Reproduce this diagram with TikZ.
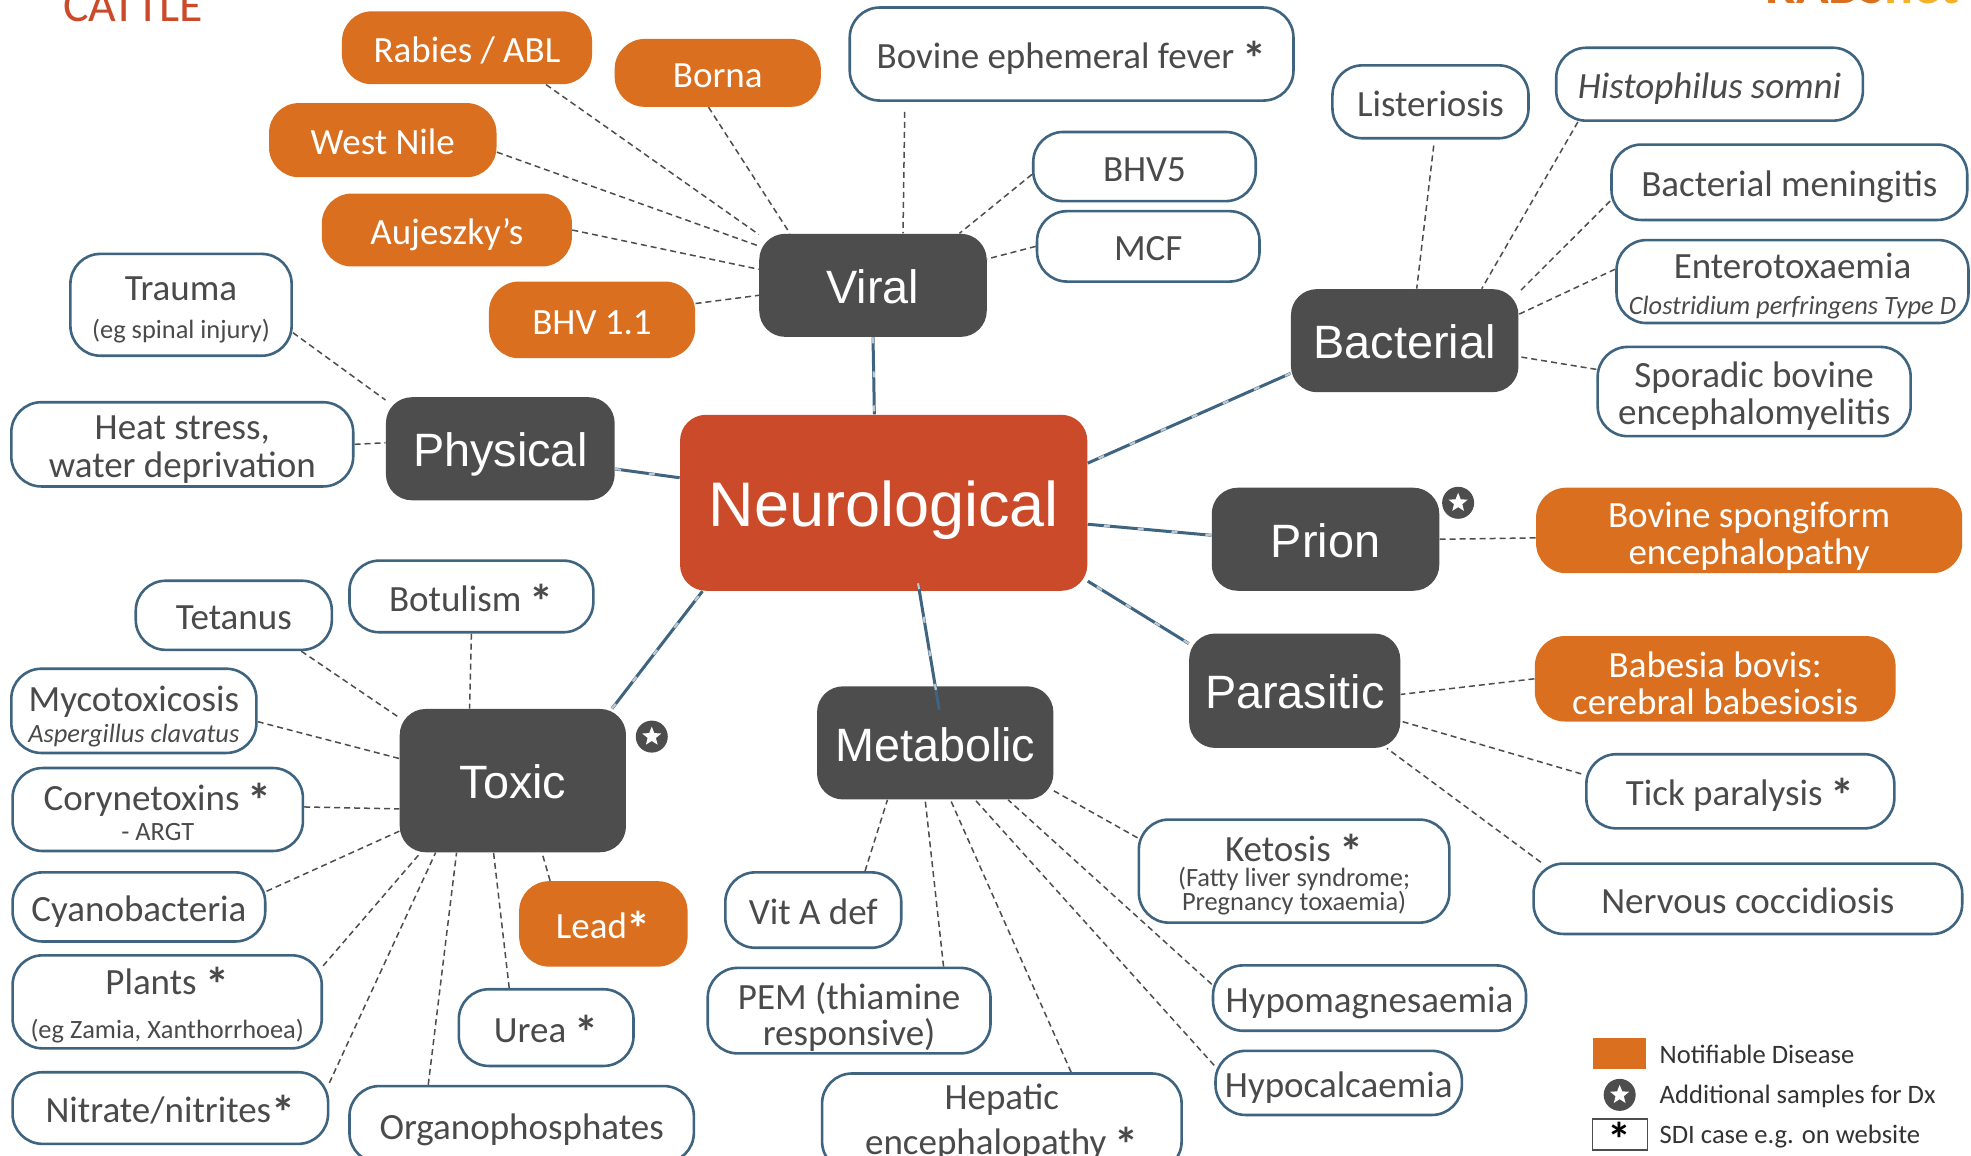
\documentclass[tikz,border=0pt]{standalone}
\usepackage{fontspec}
\setmainfont{Carlito}
\newfontfamily\catfont{Liberation Sans}
\usetikzlibrary{shapes.geometric,backgrounds}
\definecolor{orangebox}{HTML}{DA6F1F}
\definecolor{redbox}{HTML}{CB4A2A}
\definecolor{darkbox}{HTML}{4D4D4D}
\definecolor{edgeblue}{HTML}{3F6480}
\definecolor{txtgrey}{HTML}{4A4A4A}
\definecolor{logoyellow}{HTML}{F5B12A}
\newcommand\bx[7]{%
  \pgfmathsetmacro\cxx{(#3+#5)/2}%
  \pgfmathsetmacro\cyy{(#4+#6)/2}%
  \pgfmathsetmacro\www{(#5-#3)*0.6285}%
  \pgfmathsetmacro\hhh{(#6-#4)*0.6285}%
  \node[#2,minimum width=\www pt,minimum height=\hhh pt] (#1) at (\cxx,\cyy) {#7};}
\newcommand\lk[5][]{\draw[dashline,#1] (#2.#3) -- (#4.#5);}
\newcommand\mainfs{\fontsize{18.5}{18.6}\selectfont}
\newcommand\subfs{\fontsize{13.2}{12}\selectfont}
\newcommand\onel{\rule[-3.7pt]{0pt}{22pt}}
\newcommand\catl{\rule[-4.4pt]{0pt}{27pt}}
\newcommand\firstl[1]{\rule{0pt}{#1pt}}
\newcommand\astk{{\fontsize{24}{18}\selectfont\bfseries\raisebox{-3.5pt}[0pt][0pt]{*}}}
\tikzset{
  x=0.6285pt,y=-0.6285pt,
  anybox/.style={rectangle,inner sep=0pt,align=center,rounded corners=15pt},
  whitebox/.style={anybox,draw=edgeblue,line width=1.3pt,fill=white,text=txtgrey,font=\mainfs},
  notifbox/.style={anybox,fill=orangebox,text=white,font=\mainfs},
  catbox/.style={anybox,fill=darkbox,text=white,font=\catfont\fontsize{23.4}{26}\selectfont,rounded corners=13pt},
  neurobox/.style={anybox,fill=redbox,text=white,font=\catfont\fontsize{31.5}{34}\selectfont,rounded corners=13pt},
  dashline/.style={draw=darkbox,line width=0.75pt,dash pattern=on 3pt off 2pt},
  mainline/.style={draw=edgeblue,line width=1.5pt,postaction={draw=white!65!edgeblue,line width=1.1pt,dash pattern=on 3pt off 14pt}},
  badge/.style={circle,fill=darkbox,minimum size=16pt,inner sep=0pt},
  starmark/.style={star,star points=5,star point ratio=2.3,fill=white,minimum size=10pt,inner sep=0pt},
  legendtext/.style={anchor=base west,text=black!80,inner sep=0pt,font=\fontsize{13.3}{15}\selectfont},
}
\begin{document}
\begin{tikzpicture}
\useasboundingbox (0,0) rectangle (1568,919.6);
% headings cut by the page edge
\node[anchor=base west,inner sep=0pt,text=redbox,font=\fontsize{23.9}{26}\selectfont] (cattle) at (50,17) {CATTLE};
\node[anchor=base east,inner sep=0pt,text=orangebox,font=\bfseries\fontsize{27}{29}\selectfont] (logo) at (1559,3) {RABS\textcolor{logoyellow}{net}};
% centre
\bx{neuro}{neurobox}{541}{330}{865}{470}{\rule[-6pt]{0pt}{36pt}Neurological}
% categories
\bx{viral}{catbox}{604}{186}{785}{268}{\catl Viral}
\bx{physical}{catbox}{307}{316}{489}{398}{\catl Physical}
\bx{bacterial}{catbox}{1027}{230}{1208}{312}{\catl Bacterial}
\bx{prion}{catbox}{964}{388}{1145}{470}{\catl Prion}
\bx{parasitic}{catbox}{946}{504}{1114}{595}{\catl Parasitic}
\bx{metabolic}{catbox}{650}{546}{838}{636}{\catl Metabolic}
\bx{toxic}{catbox}{318}{564}{498}{678}{\catl Toxic}
% notifiable
\bx{rabies}{notifbox}{272}{9}{471}{67}{\onel Rabies / ABL}
\bx{borna}{notifbox}{489}{31}{653}{85}{\onel Borna}
\bx{westnile}{notifbox}{214}{82}{395}{141}{\onel West Nile}
\bx{aujeszky}{notifbox}{256}{154}{455}{212}{\onel Aujeszky’s}
\bx{bhvone}{notifbox}{389}{224}{553}{285}{\onel BHV 1.1}
\bx{lead}{notifbox}{413}{701}{547}{769}{\onel Lead\astk}
\bx{bse}{notifbox}{1222}{388}{1561}{456}{\firstl{18.5}Bovine spongiform\\encephalopathy}
\bx{babesia}{notifbox}{1221}{506}{1508}{574}{\firstl{17.3}Babesia bovis:\\cerebral babesiosis}
% plain
\bx{bef}{whitebox}{676}{6}{1029}{80}{\onel Bovine ephemeral fever \astk}
\bx{bhvfive}{whitebox}{822}{105}{999}{160}{\onel BHV5}
\bx{mcf}{whitebox}{825}{168}{1002}{224}{\onel MCF}
\bx{listeriosis}{whitebox}{1060}{52}{1216}{110}{\onel Listeriosis}
\bx{histophilus}{whitebox}{1238}{38}{1482}{96}{\onel\itshape Histophilus somni}
\bx{meningitis}{whitebox}{1282}{115}{1565}{175}{\onel Bacterial meningitis}
\bx{entero}{whitebox}{1286}{191}{1566}{257}{\firstl{17.2}Enterotoxaemia\\[-1pt]{\itshape\subfs Clostridium perfringens Type D}}
\bx{sporadic}{whitebox}{1271}{276}{1520}{347}{\firstl{17.3}Sporadic bovine\\encephalomyelitis}
\bx{trauma}{whitebox}{56}{202}{232}{283}{\firstl{17.2}Trauma\\[0.4pt]{\subfs (eg spinal injury)}}
\bx{heat}{whitebox}{9}{320}{281}{387}{\firstl{17.5}Heat stress,\\[0.5pt]water deprivation}
\bx{botulism}{whitebox}{278}{446}{472}{503}{\onel Botulism \astk}
\bx{tetanus}{whitebox}{108}{462}{264}{517}{\onel Tetanus}
\bx{myco}{whitebox}{9}{532}{204}{599}{\firstl{18.5}Mycotoxicosis\\[-3pt]{\itshape\subfs Aspergillus clavatus}}
\bx{coryne}{whitebox}{10}{611}{241}{677}{\firstl{16}Corynetoxins \astk\\[-3.2pt]{\subfs - ARGT}}
\bx{cyano}{whitebox}{10}{694}{211}{749}{\onel Cyanobacteria}
\bx{plants}{whitebox}{10}{760}{256}{834}{\firstl{17.3}Plants \astk\\[3.4pt]{\subfs (eg Zamia, Xanthorrhoea)}}
\bx{nitrate}{whitebox}{10}{853}{261}{910}{\onel Nitrate/nitrites\astk}
\bx{organo}{whitebox}{278}{864}{552}{925}{\onel Organophosphates}
\bx{urea}{whitebox}{365}{787}{504}{848}{\onel Urea \astk}
\bx{vita}{whitebox}{577}{694}{717}{754}{\onel Vit A def}
\bx{pem}{whitebox}{563}{770}{788}{838}{\firstl{19.8}PEM (thiamine\\[-0.6pt]responsive)}
\bx{hepatic}{whitebox}{654}{854}{940}{932}{Hepatic\\[3.8pt]encephalopathy \astk}
\bx{ketosis}{whitebox}{906}{652}{1153}{734}{\firstl{17.3}Ketosis \astk\\[-6.4pt]{\subfs (Fatty liver syndrome;}\\[-6.6pt]{\subfs Pregnancy toxaemia)}}
\bx{hypomag}{whitebox}{965}{768}{1214}{820}{\onel Hypomagnesaemia}
\bx{hypocal}{whitebox}{967}{836}{1163}{887}{\onel Hypocalcaemia}
\bx{tick}{whitebox}{1262}{600}{1507}{659}{\onel Tick paralysis \astk}
\bx{nervous}{whitebox}{1220}{687}{1561}{743}{\onel Nervous coccidiosis}
% badges
\node[badge] (badgeprion) at (1160,400) {};
\node[starmark] (starprion) at (badgeprion) {};
\node[badge] (badgetoxic) at (518.5,586) {};
\node[starmark] (startoxic) at (badgetoxic) {};
% legend
\node[rectangle,fill=orangebox,minimum width=26.5pt,minimum height=15.5pt,inner sep=0pt] (legnotif) at (1288,838) {};
\node[badge] (legbadge) at (1288.5,871) {};
\node[starmark] (legstar) at (legbadge) {};
\node[rectangle,draw=darkbox,line width=0.6pt,fill=white,minimum width=27.5pt,minimum height=15.5pt,inner sep=0pt] (legstarbox) at (1288.5,902.5) {};
\node[inner sep=0pt,font=\fontsize{24}{24}\selectfont\bfseries,text=black] (legast) at (1288.5,906) {*};
\node[legendtext] (legt1) at (1320,846) {Notifiable Disease};
\node[legendtext] (legt2) at (1320,878) {Additional samples for Dx};
\node[legendtext] (legt3) at (1320,910) {SDI case e.g. on website};
% connectors
\begin{scope}[on background layer]
\fill[white] (0,0) rectangle (1568,919.6);
\lk{rabies}{-25}{viral}{156}
\lk{borna}{-105}{viral}{148}
\lk[shorten <=5pt]{bef}{196.5}{viral}{60}
\lk{bhvfive}{-176.4}{viral}{31.4}
\lk{mcf}{180}{viral}{13}
\lk{westnile}{-6.6}{viral}{161.7}
\lk{aujeszky}{0}{viral}{172.4}
\lk{bhvone}{9.3}{viral}{-175}
\lk{trauma}{-14.3}{physical}{157.3}
\lk{heat}{0}{physical}{177.5}
\lk[shorten <=3pt]{listeriosis}{-84}{bacterial}{77}
\lk{histophilus}{-164}{bacterial}{34}
\lk{meningitis}{-174.75}{bacterial}{23.6}
\lk{entero}{176.7}{bacterial}{13}
\lk{sporadic}{172}{bacterial}{-8.8}
\lk{bse}{-178}{prion}{0.6}
\lk{babesia}{180}{parasitic}{-2.4}
\lk[shorten <=2pt]{tick}{174.2}{parasitic}{-16.3}
\lk{nervous}{170.2}{parasitic}{-32.3}
\lk{vita}{37.6}{metabolic}{-130.2}
\lk{pem}{25.4}{metabolic}{-100}
\lk{hepatic}{36}{metabolic}{-75}
\lk{hypocal}{172.2}{metabolic}{-55.4}
\lk{hypomag}{175.9}{metabolic}{-38.3}
\lk{ketosis}{168.2}{metabolic}{-22}
\lk{botulism}{-90}{toxic}{121.6}
\lk{tetanus}{-28.8}{toxic}{151.4}
\lk{myco}{-5}{toxic}{169.3}
\lk{coryne}{1.5}{toxic}{-166.3}
\lk{cyano}{7.7}{toxic}{-156}
\lk{plants}{13.5}{toxic}{-142.8}
\lk{nitrate}{9}{toxic}{-137.9}
\lk{organo}{157.7}{toxic}{-128.9}
\lk{urea}{133}{toxic}{-105.7}
\lk{lead}{141}{toxic}{-68.9}
\draw[mainline] (viral.south) -- (neuro.96.5);
\draw[mainline] (physical.-10) -- (neuro.173);
\draw[mainline] (bacterial.-164) -- (neuro.11.85);
\draw[mainline] (prion.178.7) -- (neuro.-6.3);
\draw[mainline] (parasitic.156.7) -- (neuro.-21.4);
\draw[mainline] (toxic.36) -- (neuro.-154);
\end{scope}
\draw[mainline,shorten <=-4pt,shorten >=-12pt] (neuro.-68.2) -- (metabolic.north);
\end{tikzpicture}
\end{document}
